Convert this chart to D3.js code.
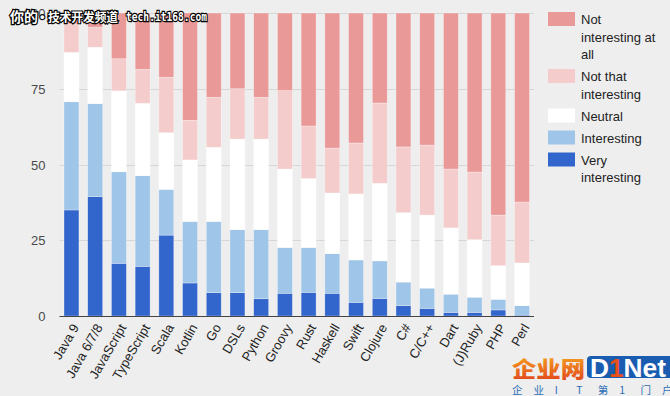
<!DOCTYPE html>
<html><head><meta charset="utf-8">
<script src="https://cdn.jsdelivr.net/npm/d3@7"></script>
<style>
html,body{margin:0;padding:0;background:#eeeeee;}
svg{display:block;}
</style></head>
<body>
<svg id="c" width="670" height="396"></svg>
<script>
const categories = ["Java 9","Java 6/7/8","JavaScript","TypeScript","Scala","Kotlin","Go","DSLs","Python","Groovy","Rust","Haskell","Swift","Clojure","C#","C/C++","Dart","(J)Ruby","PHP","Perl"];
const seriesNames = ["Very interesting","Interesting","Neutral","Not that interesting","Not interesting at all"];
const veryInteresting = [35.0,39.4,17.4,16.4,26.7,10.9,7.7,7.7,5.7,7.5,7.8,7.5,4.5,5.8,3.4,2.5,1.2,1.2,2.0,0.3];
const interesting     = [35.7,30.7,30.2,29.9,15.1,20.3,23.5,20.8,22.8,15.1,14.8,13.1,14.0,12.4,7.8,6.7,6.0,5.0,3.5,3.1];
const neutral         = [16.3,18.6,26.7,23.9,18.7,20.3,24.5,29.9,29.9,25.9,22.8,20.0,21.8,25.6,22.9,24.1,21.9,19.0,11.1,14.1];
const notThat         = [9.4,6.6,10.6,11.2,18.3,13.1,16.5,16.6,13.8,25.9,17.3,14.8,16.8,26.5,21.7,23.1,19.4,22.3,16.7,20.1];
const notAtAll        = [3.6,4.7,15.1,18.6,21.2,35.4,27.8,25.0,27.8,25.6,37.3,44.6,42.9,29.7,44.2,43.6,51.5,52.5,66.7,62.4];
const yTicks = [0,25,50,75,100];
const colors = ["#3366cc","#9fc5e8","#ffffff","#f4cccc","#ea9999"];
const legendLabels = [["Not","interesting at","all"],["Not that","interesting"],["Neutral"],["Interesting"],["Very","interesting"]];
const legendColors = ["#ea9999","#f4cccc","#ffffff","#9fc5e8","#3366cc"];
const taglineChars = ["企","业","I","T","第","1","门","户"];

const svg = d3.select("#c");
const font = "Arial, 'Liberation Sans', sans-serif";
const pLeft = 59.5, pRight = 534, pTop = 13, pBottom = 316;

const rows = categories.map((c,i)=>({cat:c, s0:veryInteresting[i], s1:interesting[i], s2:neutral[i], s3:notThat[i], s4:notAtAll[i]}));
const stack = d3.stack().keys(["s0","s1","s2","s3","s4"])(rows);

const x = d3.scaleBand().domain(categories).range([pLeft,pRight]).paddingInner(0.37).paddingOuter(0.19);
const y = d3.scaleLinear().domain([0,100]).range([pBottom,pTop]);

// gridlines
svg.append("g").selectAll("line").data(yTicks.filter(d=>d>0)).join("line")
  .attr("x1",pLeft).attr("x2",pRight)
  .attr("y1",d=>Math.round(y(d))+0.5).attr("y2",d=>Math.round(y(d))+0.5)
  .attr("stroke","#d6d6d6").attr("stroke-width",1);

// bars
svg.append("g").selectAll("g").data(stack).join("g")
  .attr("fill",(d,i)=>colors[i])
  .selectAll("rect").data(d=>d).join("rect")
  .attr("x",d=>x(d.data.cat))
  .attr("width",x.bandwidth())
  .attr("y",d=>y(d[1]))
  .attr("height",d=>Math.max(0,y(d[0])-y(d[1])))
  .attr("stroke","rgba(255,255,255,0.5)").attr("stroke-width",0.6);

// baseline
svg.append("line").attr("x1",pLeft).attr("x2",pRight).attr("y1",pBottom+0.5).attr("y2",pBottom+0.5)
  .attr("stroke","#444").attr("stroke-width",1.2);

// y axis
const yAxis = d3.axisLeft(y).tickValues(yTicks).tickSize(0).tickPadding(0);
const ya = svg.append("g").attr("transform",`translate(${pLeft-14},0)`).call(yAxis);
ya.select(".domain").remove();
ya.selectAll("text").attr("font-family",font).attr("font-size",13).attr("fill","#4a4a4a").attr("dy","0.35em");

// x axis
const xAxis = d3.axisBottom(x).tickSize(0).tickPadding(0);
const xa = svg.append("g").attr("transform",`translate(0,${pBottom+9})`).call(xAxis);
xa.select(".domain").remove();
xa.selectAll("text").attr("font-family",font).attr("font-size",13).attr("fill","#222")
  .attr("text-anchor","end").attr("dy","0.35em").attr("transform","translate(4,0) rotate(-60)");

// legend
const lg = svg.append("g");
let ly = 12;
legendLabels.forEach((lines,i)=>{
  const g = lg.append("g").attr("transform",`translate(548,${ly})`);
  g.append("rect").attr("width",27).attr("height",14).attr("fill",legendColors[i]);
  lines.forEach((t,j)=>{
    g.append("text").attr("x",33).attr("y",12+j*17.5).text(t)
      .attr("font-family",font).attr("font-size",13).attr("fill","#222");
  });
  ly += lines.length*17.5 + 4.5;
});

// watermark top-left
const wm = svg.append("g").attr("fill","#fff").attr("stroke","#000").attr("stroke-width",2.4)
  .attr("paint-order","stroke").attr("font-weight","bold");
wm.append("text").attr("x",10).attr("y",22).attr("textLength",28).attr("lengthAdjust","spacingAndGlyphs")
  .attr("font-family","'Noto Sans CJK SC', sans-serif").attr("font-size",13.5).text("你的");
wm.append("text").attr("x",40).attr("y",21).attr("font-family",font).attr("font-size",13).text("•");
wm.append("text").attr("x",48).attr("y",22).attr("textLength",70).attr("lengthAdjust","spacingAndGlyphs")
  .attr("font-family","'Noto Sans CJK SC', sans-serif").attr("font-size",12.5).text("技术开发频道");
wm.append("text").attr("x",126).attr("y",21).attr("textLength",81).attr("lengthAdjust","spacingAndGlyphs")
  .attr("font-family","'DejaVu Sans Mono', monospace").attr("font-size",12).text("tech.it168.com");

// logo bottom-right
const lgo = svg.append("g");
const grad = svg.append("defs").append("linearGradient").attr("id","og").attr("x1",0).attr("y1",0).attr("x2",0).attr("y2",1);
grad.append("stop").attr("offset","0%").attr("stop-color","#f9b020");
grad.append("stop").attr("offset","100%").attr("stop-color","#e0401a");
lgo.append("text").attr("x",512).attr("y",377).text("企业网").attr("textLength",73).attr("lengthAdjust","spacingAndGlyphs")
  .attr("font-family","'Noto Sans CJK SC', sans-serif").attr("font-size",22).attr("font-weight","900")
  .attr("fill","url(#og)");
lgo.append("rect").attr("x",587).attr("y",356).attr("width",90).attr("height",22).attr("rx",4).attr("fill","#1a5cb0");
const dn = lgo.append("text").attr("x",590).attr("y",377).attr("textLength",76).attr("lengthAdjust","spacingAndGlyphs")
  .attr("font-family",font).attr("font-size",25).attr("font-weight","bold").attr("fill","#fff");
dn.append("tspan").text("D");
dn.append("tspan").attr("fill","#e8501a").text("1");
dn.append("tspan").text("Net");
const tagX = d3.scalePoint().domain(d3.range(taglineChars.length)).range([512,662]);
lgo.append("g").selectAll("text").data(taglineChars).join("text")
  .attr("x",(d,i)=>tagX(i)).attr("y",394).text(d=>d)
  .attr("font-family","'Noto Sans CJK SC', sans-serif").attr("font-size",10.5).attr("fill","#2a6db5");
</script>
</body></html>
